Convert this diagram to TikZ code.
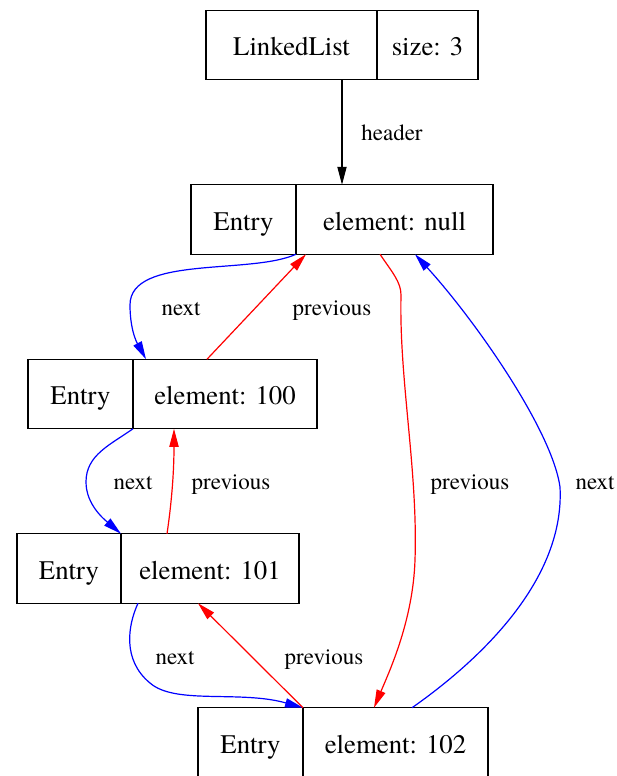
\documentclass[tikz,border=0pt]{standalone}
\usepackage{fontspec}
\newfontfamily\tms{texgyretermes-regular.otf}
\usetikzlibrary{arrows.meta}
\begin{document}
\begin{tikzpicture}[x=0.5pt,y=-0.5pt,
  cell/.style={draw, rectangle, line width=0.6pt, inner sep=0pt, outer sep=0pt,
    minimum height=34.75pt, text height=10.5pt, text depth=0pt,
    font=\tms\fontsize{13.4}{16}\selectfont},
  lbl/.style={anchor=base, inner sep=0pt, font=\tms\fontsize{11.5}{14}\selectfont},
  conn/.style={line width=0.6pt, -{Triangle[length=9pt,width=4.6pt]}},
  nextc/.style={conn, blue},
  prevc/.style={conn, red}]
\useasboundingbox (0,0) rectangle (616,776);

% cells
\node[cell, minimum width=85.5pt] (ll)   at (291.5,45)    {LinkedList};
\node[cell, minimum width=50.5pt] (size) at (427.5,45)    {size: 3};
\node[cell, minimum width=52.5pt] (e0)   at (243.5,219.5) {Entry};
\node[cell, minimum width=98.5pt] (v0)   at (394.5,219.5) {element: null};
\node[cell, minimum width=52.5pt] (e1)   at (80.5,394)    {Entry};
\node[cell, minimum width=92pt]   (v1)   at (225,394)     {element: 100};
\node[cell, minimum width=52pt]   (e2)   at (69,568.5)    {Entry};
\node[cell, minimum width=89pt]   (v2)   at (210,568.5)   {element: 101};
\node[cell, minimum width=52.5pt] (e3)   at (250.5,742.5) {Entry};
\node[cell, minimum width=92.5pt] (v3)   at (395.5,742.5) {element: 102};

% connectors
\draw[conn] ([xshift=-17.5pt]ll.south east) -- ([xshift=23pt]v0.north west);
\draw[nextc] (v0.south west) .. controls (250,275) and (130,255) .. (130,305)
  .. controls (130,335) and (140,348) .. ([xshift=6.5pt]v1.north west);
\draw[prevc] ([xshift=37pt]v1.north west) -- ([xshift=5pt]v0.south west);
\draw[prevc] ([xshift=42pt]v0.south west) .. controls (392,272) and (401,282) .. (401,295)
  .. controls (399,380) and (418,470) .. (415,560)
  .. controls (413,620) and (390,670) .. ([xshift=35.5pt]v3.north west);
\draw[nextc] ([xshift=54.5pt]v3.north west) .. controls (480,660) and (565,580) .. (560,487)
  .. controls (552,430) and (475,320) .. ([xshift=59.5pt]v0.south west);
\draw[nextc] (v1.south west) .. controls (110,445) and (86,455) .. (86,482)
  .. controls (86,505) and (105,520) .. (v2.north west);
\draw[prevc] ([xshift=23pt]v2.north west) .. controls (172,500) and (174,470) .. ([xshift=20.5pt]v1.south west);
\draw[nextc] ([xshift=8.5pt]v2.south west) .. controls (128,625) and (122,660) .. (150,683)
  .. controls (175,705) and (240,690) .. (v3.north west);
\draw[prevc] (v3.north west) -- ([xshift=38.5pt]v2.south west);

% labels
\node[lbl] (lh)  at (392,140) {header};
\node[lbl] (ln0) at (181,315) {next};
\node[lbl] (lp0) at (332,315) {previous};
\node[lbl] (ln1) at (133,489) {next};
\node[lbl] (lp1) at (231,489) {previous};
\node[lbl] (lp2) at (470,489) {previous};
\node[lbl] (ln2) at (595,489) {next};
\node[lbl] (ln3) at (175,664) {next};
\node[lbl] (lp3) at (324,664) {previous};
\end{tikzpicture}
\end{document}
